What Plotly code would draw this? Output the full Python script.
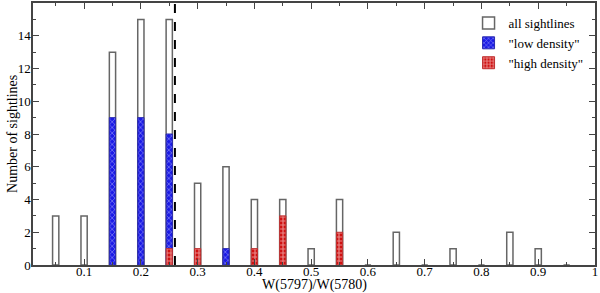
import plotly.graph_objects as go

ratio_bins = [0.05, 0.10, 0.15, 0.20, 0.25, 0.30, 0.35, 0.40, 0.45, 0.50,
              0.55, 0.60, 0.65, 0.70, 0.75, 0.80, 0.85, 0.90, 0.95]
all_counts = [3, 3, 13, 15, 15, 5, 6, 4, 4, 1, 4, 0, 2, 0, 1, 0, 2, 1, 0]
low_counts = [0, 0, 9, 9, 8, 0, 1, 0, 0, 0, 0, 0, 0, 0, 0, 0, 0, 0, 0]
high_counts = [0, 0, 0, 0, 1, 1, 0, 1, 3, 0, 2, 0, 0, 0, 0, 0, 0, 0, 0]
threshold = 0.26
x_tick_vals = [0.1, 0.2, 0.3, 0.4, 0.5, 0.6, 0.7, 0.8, 0.9, 1.0]
x_tick_text = ["0.1", "0.2", "0.3", "0.4", "0.5", "0.6", "0.7", "0.8", "0.9", "1"]
y_tick_vals = [0, 2, 4, 6, 8, 10, 12, 14]

font = "Liberation Serif"
bw = 0.011


def nz(vals):
    return [v if v > 0 else None for v in vals]


fig = go.Figure()
fig.add_trace(go.Bar(
    x=ratio_bins, y=all_counts, width=bw, name="all sightlines",
    marker=dict(color="white", line=dict(color="#666666", width=1.5)),
))
fig.add_trace(go.Bar(
    x=ratio_bins, y=nz(low_counts), width=bw, name='"low density"',
    marker=dict(color="#1a1ae6", line=dict(color="#2a2ab0", width=1),
                pattern=dict(shape="x", fgcolor="white", bgcolor="#1a1ae6",
                             size=4, solidity=0.3)),
))
fig.add_trace(go.Bar(
    x=ratio_bins, y=nz(high_counts), width=bw, name='"high density"',
    marker=dict(color="#d01010", line=dict(color="#c03030", width=1),
                pattern=dict(shape="+", fgcolor="white", bgcolor="#d01010",
                             size=4, solidity=0.5)),
))

fig.add_shape(type="line", x0=threshold, x1=threshold, y0=0, y1=1,
              xref="x", yref="paper",
              line=dict(color="black", width=2, dash="dash"))

axis_common = dict(
    showgrid=False, zeroline=False, showline=True, linecolor="#444444",
    linewidth=1.5, ticks="inside", ticklen=6, tickcolor="#444444",
    mirror="allticks", tickfont=dict(family=font, size=13, color="black"),
    automargin=False,
)
fig.update_xaxes(
    range=[0.01, 1.0], tickvals=x_tick_vals, ticktext=x_tick_text,
    ticklabelstandoff=-6,
    minor=dict(dtick=0.05, tick0=0, ticks="inside", ticklen=3, tickcolor="#444444"),
    **axis_common,
)
fig.update_yaxes(
    range=[0, 16], tickvals=y_tick_vals, ticklabelstandoff=-2,
    minor=dict(dtick=1, tick0=0, ticks="inside", ticklen=3, tickcolor="#444444"),
    **axis_common,
)

fig.add_annotation(text="W(5797)/W(5780)", xref="paper", yref="paper",
                   x=0.5, y=-0.076, xanchor="center", yanchor="middle",
                   showarrow=False, font=dict(family=font, size=14, color="black"))
fig.add_annotation(text="Number of sightlines", xref="paper", yref="paper",
                   x=-0.0374, y=0.5, xanchor="center", yanchor="middle",
                   textangle=-90, showarrow=False,
                   font=dict(family=font, size=14, color="black"))

fig.update_layout(
    width=600, height=293,
    margin=dict(l=33, r=5, t=3, b=28),
    barmode="overlay",
    plot_bgcolor="white", paper_bgcolor="white",
    font=dict(family=font, size=13, color="black"),
    legend=dict(x=0.775, y=0.981, xanchor="left", yanchor="top",
                bgcolor="rgba(0,0,0,0)", font=dict(family=font, size=13),
                itemwidth=30, tracegroupgap=0),
    showlegend=True,
)

fig.write_html("out.html", config={"displayModeBar": False},
               post_script="document.body.style.margin='0';document.body.style.overflow='hidden';")
